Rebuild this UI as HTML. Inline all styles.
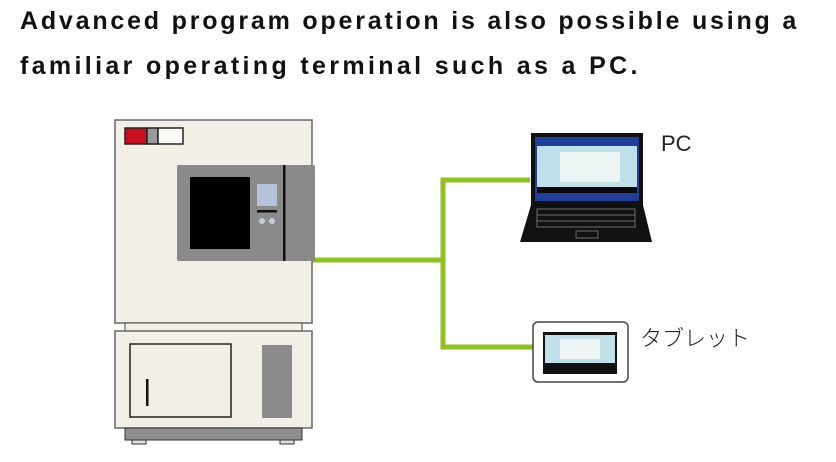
<!DOCTYPE html>
<html><head><meta charset="utf-8"><style>
body{margin:0;width:836px;height:462px;background:#fff;overflow:hidden;position:relative;font-family:"Liberation Sans","Noto Sans CJK JP",sans-serif}
.t{position:absolute;left:20px;font-weight:bold;font-size:25px;letter-spacing:2.8px;color:#111;white-space:nowrap}
</style></head><body>
<div class="t" style="top:7px">Advanced program operation is also possible using a</div>
<div class="t" style="top:52px;letter-spacing:3.35px">familiar operating terminal such as a PC.</div>
<svg width="836" height="462" style="position:absolute;left:0;top:0">
<g stroke="#8dc21f" stroke-width="5" fill="none">
<polyline points="312,260 443,260"/>
<polyline points="530,180 443,180 443,347 535,347"/>
</g>
<rect x="115" y="120" width="197" height="203" fill="#f2efe6" stroke="#666" stroke-width="1.5"/>
<rect x="125" y="323" width="177" height="8" fill="#f2efe6" stroke="#444" stroke-width="1"/>
<rect x="115" y="331" width="197" height="97" fill="#f2efe6" stroke="#666" stroke-width="1.5"/>
<rect x="125" y="428" width="177" height="12" fill="#8f8f8f" stroke="#333" stroke-width="1"/>
<rect x="132" y="440" width="14" height="4" fill="#ddd" stroke="#333" stroke-width="1"/>
<rect x="280" y="440" width="14" height="4" fill="#ddd" stroke="#333" stroke-width="1"/>
<rect x="125" y="128" width="22" height="16" fill="#c8101e" stroke="#222" stroke-width="1.5"/>
<rect x="147" y="128" width="11" height="16" fill="#999" stroke="#222" stroke-width="1.5"/>
<rect x="158" y="128" width="25" height="16" fill="#fbfaf6" stroke="#222" stroke-width="1.5"/>
<rect x="177" y="165" width="138" height="96" rx="2" fill="#8a8a8a"/>
<rect x="190" y="177" width="60" height="72" fill="#000"/>
<rect x="257" y="184" width="20" height="22" fill="#b5c3da"/>
<rect x="257" y="210" width="20" height="2.5" fill="#111"/>
<circle cx="262" cy="221" r="3" fill="#c8ccd6"/><circle cx="272" cy="221" r="3" fill="#c8ccd6"/>
<rect x="283" y="165" width="2.5" height="96" fill="#111"/>
<rect x="130" y="344" width="101" height="73" fill="#f2efe6" stroke="#222" stroke-width="1.5"/>
<rect x="146" y="379" width="2.5" height="27" fill="#111"/>
<rect x="262" y="345" width="30" height="73" fill="#8c8c8c"/>
<rect x="531" y="133" width="112" height="72" fill="#111"/>
<rect x="535" y="137" width="104" height="64" fill="#1f3f9a"/>
<rect x="537" y="146" width="100" height="43" fill="#bfe0e8"/>
<rect x="560" y="152" width="60" height="30" fill="#eef5f5"/>
<rect x="537" y="187" width="100" height="6" fill="#0a0a0a"/>
<polygon points="531,205 643,205 652,242 520,242" fill="#111"/>
<g stroke="#888" stroke-width="0.8" fill="none">
<rect x="537" y="209" width="98" height="18"/>
<line x1="537" y1="215" x2="635" y2="215"/><line x1="537" y1="221" x2="635" y2="221"/>
<rect x="576" y="231" width="22" height="7"/>
</g>
<rect x="533" y="322" width="95" height="60" rx="5" fill="#fff" stroke="#444" stroke-width="1.5"/>
<rect x="543" y="332" width="74" height="42" fill="#111"/>
<rect x="545" y="335" width="70" height="28" fill="#bfe0e8"/>
<rect x="560" y="339" width="40" height="20" fill="#eef5f5"/>
</svg>
<div style="position:absolute;left:661px;top:131px;font-size:22px;color:#222">PC</div>
<div style="position:absolute;left:640px;top:321px;font-size:22px;color:#222;font-family:'Noto Sans CJK JP',sans-serif;font-weight:300">タブレット</div>
</body></html>
